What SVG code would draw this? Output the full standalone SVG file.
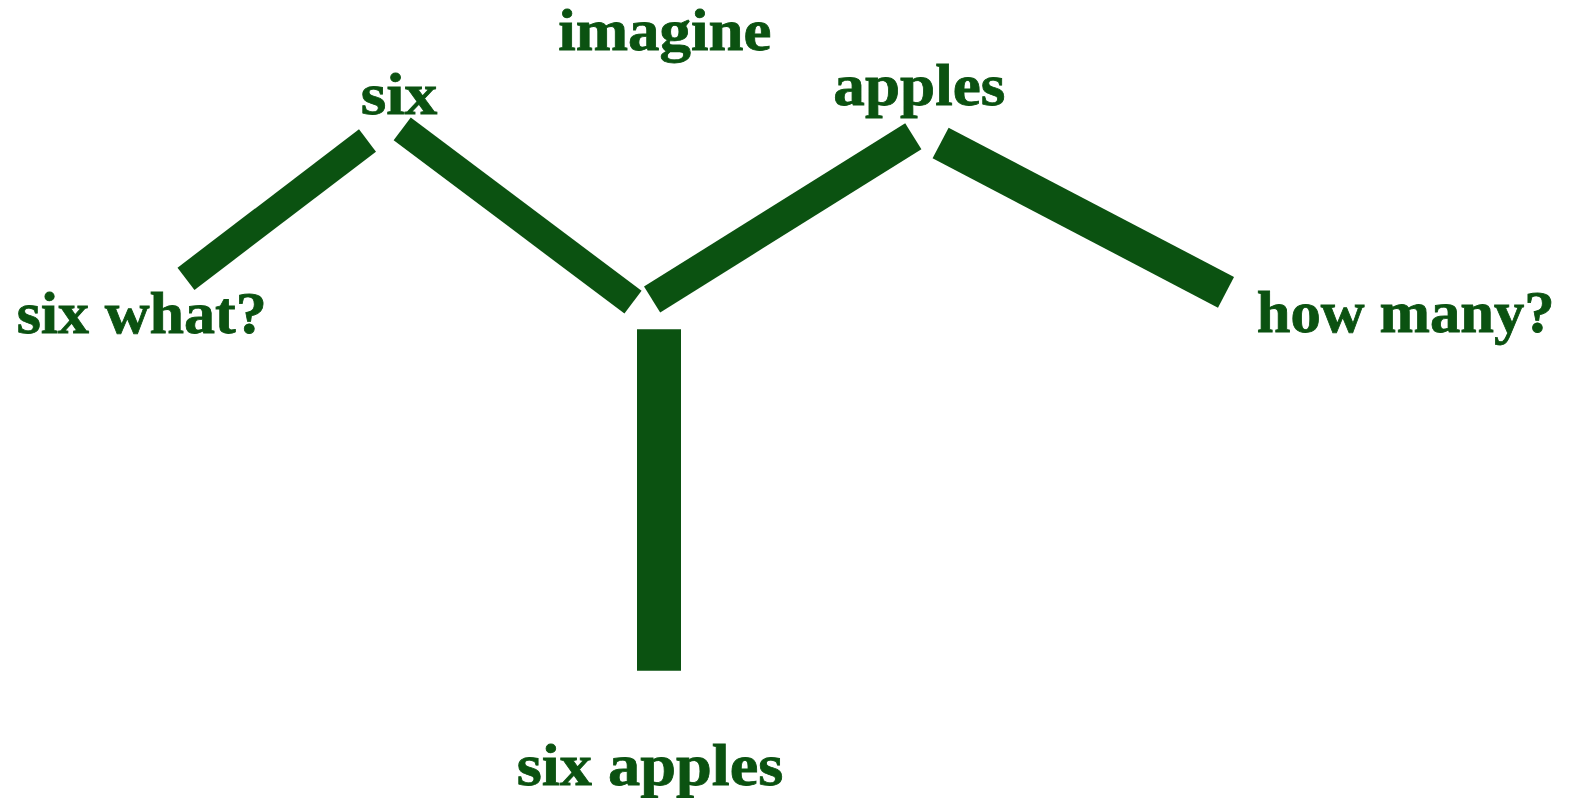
<svg xmlns="http://www.w3.org/2000/svg" width="1578" height="798" viewBox="0 0 1578 798">
<style>
.lbl{font-family:"Liberation Serif","Times New Roman",serif;font-weight:bold;font-size:60px;fill:#0b5211;stroke:#0b5211;stroke-width:0.8}
.bar{stroke:#0b5211;stroke-linecap:butt;fill:none}
</style>
<rect width="1578" height="798" fill="#ffffff"/>
<g id="connectors">
<line class="bar" x1="186" y1="278.8" x2="367.5" y2="140.5" stroke-width="28"/>
<line class="bar" x1="402.2" y1="128.8" x2="633" y2="302.2" stroke-width="28.5"/>
<line class="bar" x1="652.1" y1="299.5" x2="913.3" y2="136.3" stroke-width="30.6"/>
<line class="bar" x1="940.6" y1="143" x2="1226" y2="292.3" stroke-width="34.6"/>
<line class="bar" x1="659" y1="329.3" x2="659" y2="670.7" stroke-width="44"/>
</g>
<g id="node-imagine"><text class="lbl" x="558.3" y="50" textLength="213" lengthAdjust="spacingAndGlyphs">imagine</text></g>
<g id="node-six"><text class="lbl" x="360.7" y="114.3" textLength="76.6" lengthAdjust="spacingAndGlyphs">six</text></g>
<g id="node-apples"><text class="lbl" x="833.3" y="105" textLength="172" lengthAdjust="spacingAndGlyphs">apples</text></g>
<g id="node-six-what"><text class="lbl" x="16.7" y="333.3" textLength="250" lengthAdjust="spacingAndGlyphs">six what?</text></g>
<g id="node-how-many"><text class="lbl" x="1256.7" y="331.7" textLength="298" lengthAdjust="spacingAndGlyphs">how many?</text></g>
<g id="node-six-apples"><text class="lbl" x="516.7" y="785" textLength="266.7" lengthAdjust="spacingAndGlyphs">six apples</text></g>
</svg>
